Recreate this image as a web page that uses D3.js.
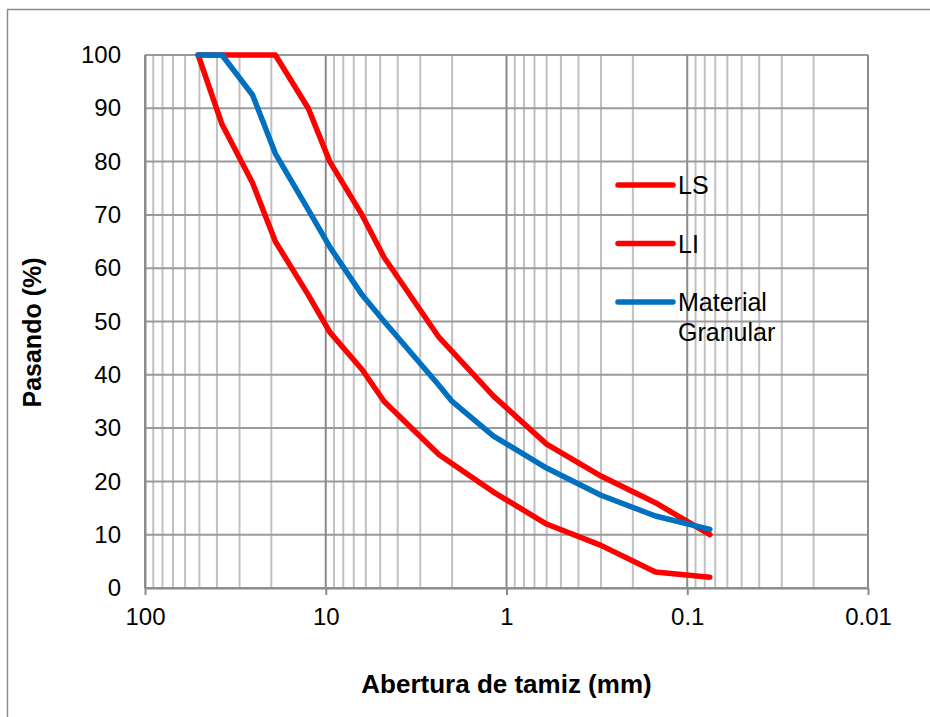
<!DOCTYPE html>
<html>
<head>
<meta charset="utf-8">
<script src="https://cdn.jsdelivr.net/npm/d3@7"></script>
<style>
  body { margin: 0; background: #fff; }
  svg { display: block; font-family: "Liberation Sans", Arial, sans-serif; }
</style>
</head>
<body>
<div id="chart"></div>
<script>
// sieve openings (mm) and percent passing
const sieveSizes = [50.8, 37.5, 25.4, 19, 12.5, 9.5, 6.3, 4.75, 2.36, 1.18, 0.6, 0.3, 0.15, 0.075];
const lsValues = [100, 100, 100, 100, 90, 80, 70, 62, 47, 36, 27, 21, 16, 10];
const liValues = [100, 87, 76, 65, 55, 48, 41, 35, 25, 18, 12, 8, 3, 2];

const materialSizes = [50.8, 37.5, 25.4, 19, 12.5, 9.5, 6.3, 4.75, 2.36, 2.0, 1.18, 0.6, 0.3, 0.15, 0.075];
const materialValues = [100, 100, 92.5, 81.5, 71, 64, 55, 50, 38, 35, 28.5, 22.5, 17.4, 13.5, 11];

const xTickValues = [100, 10, 1, 0.1, 0.01];
const xTickLabels = ["100", "10", "1", "0.1", "0.01"];
const yTickValues = [0, 10, 20, 30, 40, 50, 60, 70, 80, 90, 100];

const series = [
    { name: "LS", sizes: sieveSizes, values: lsValues, color: "#ff0000" },
    { name: "LI", sizes: sieveSizes, values: liValues, color: "#ff0000" },
    { name: "Material Granular", sizes: materialSizes, values: materialValues, color: "#0070c0" }
];

const width = 930, height = 717;
const plot = { left: 145, right: 868, top: 55, bottom: 588 };

const svg = d3.select("#chart").append("svg")
    .attr("width", width)
    .attr("height", height);

// outer chart frame (cut by the picture edge on right and bottom)
svg.append("rect")
    .attr("x", 7.5).attr("y", 9.5)
    .attr("width", 1000).attr("height", 1000)
    .attr("fill", "none")
    .attr("stroke", "#8c8c8c")
    .attr("stroke-width", 1.5);

const x = d3.scaleLog().domain([100, 0.01]).range([plot.left, plot.right]);
const y = d3.scaleLinear().domain([0, 100]).range([plot.bottom, plot.top]);

// minor vertical grid
const minorTicks = [];
for (let e = -2; e < 2; e++) {
    for (let m = 2; m <= 9; m++) minorTicks.push(m * Math.pow(10, e));
}
svg.append("g")
    .selectAll("line")
    .data(minorTicks)
    .join("line")
    .attr("x1", d => x(d)).attr("x2", d => x(d))
    .attr("y1", plot.top).attr("y2", plot.bottom)
    .attr("stroke", "#c0c0c0")
    .attr("stroke-width", 2);

// horizontal grid
svg.append("g")
    .selectAll("line")
    .data(yTickValues)
    .join("line")
    .attr("x1", plot.left).attr("x2", plot.right)
    .attr("y1", d => y(d)).attr("y2", d => y(d))
    .attr("stroke", "#9a9a9a")
    .attr("stroke-width", 2);

// major vertical grid
svg.append("g")
    .selectAll("line")
    .data(xTickValues)
    .join("line")
    .attr("x1", d => x(d)).attr("x2", d => x(d))
    .attr("y1", plot.top).attr("y2", plot.bottom)
    .attr("stroke", "#8a8a8a")
    .attr("stroke-width", 2);

// x axis
const xAxis = svg.append("g")
    .attr("transform", `translate(0,${plot.bottom})`)
    .call(d3.axisBottom(x).tickValues(xTickValues).tickFormat((d, i) => xTickLabels[i]).tickSize(7).tickSizeOuter(0));
xAxis.select(".domain").attr("stroke", "#8a8a8a").attr("stroke-width", 2);
xAxis.selectAll(".tick line").attr("stroke", "#8a8a8a").attr("stroke-width", 2);
xAxis.selectAll(".tick text")
    .attr("y", 20)
    .attr("fill", "#000")
    .style("font-size", "24px");

// y axis
const yAxis = svg.append("g")
    .attr("transform", `translate(${plot.left},0)`)
    .call(d3.axisLeft(y).tickValues(yTickValues).tickSize(0).tickPadding(24));
yAxis.select(".domain").attr("stroke", "#8a8a8a").attr("stroke-width", 2);
yAxis.selectAll(".tick text")
    .attr("fill", "#000")
    .style("font-size", "24px");

// axis titles
svg.append("text")
    .attr("x", (plot.left + plot.right) / 2)
    .attr("y", 693)
    .attr("text-anchor", "middle")
    .style("font-size", "26px")
    .style("font-weight", "bold")
    .text("Abertura de tamiz (mm)");

svg.append("text")
    .attr("transform", `translate(41,${(plot.top + plot.bottom) / 2 + 11}) rotate(-90)`)
    .attr("text-anchor", "middle")
    .style("font-size", "25px")
    .style("font-weight", "bold")
    .text("Pasando (%)");

// series
const line = d3.line()
    .x(d => x(d[0]))
    .y(d => y(d[1]));

svg.append("g")
    .selectAll("path")
    .data(series)
    .join("path")
    .attr("d", s => line(s.sizes.map((v, i) => [v, s.values[i]])))
    .attr("fill", "none")
    .attr("stroke", s => s.color)
    .attr("stroke-width", 5.5)
    .attr("stroke-linejoin", "round")
    .attr("stroke-linecap", "round");

// legend
const legend = svg.append("g").attr("transform", "translate(618,185)");
const legendItem = legend.selectAll("g")
    .data(series)
    .join("g")
    .attr("transform", (d, i) => `translate(0,${i * 58.5})`);

legendItem.append("line")
    .attr("x1", 0).attr("x2", 55)
    .attr("stroke", d => d.color)
    .attr("stroke-width", 5.5)
    .attr("stroke-linecap", "round");

legendItem.append("text")
    .attr("x", 60)
    .attr("y", 9)
    .style("font-size", "25px")
    .each(function (d) {
        const words = d.name.split(" ");
        d3.select(this).selectAll("tspan")
            .data(words)
            .join("tspan")
            .attr("x", 60)
            .attr("dy", (w, i) => i === 0 ? 0 : 30)
            .text(w => w);
    });
</script>
</body>
</html>
